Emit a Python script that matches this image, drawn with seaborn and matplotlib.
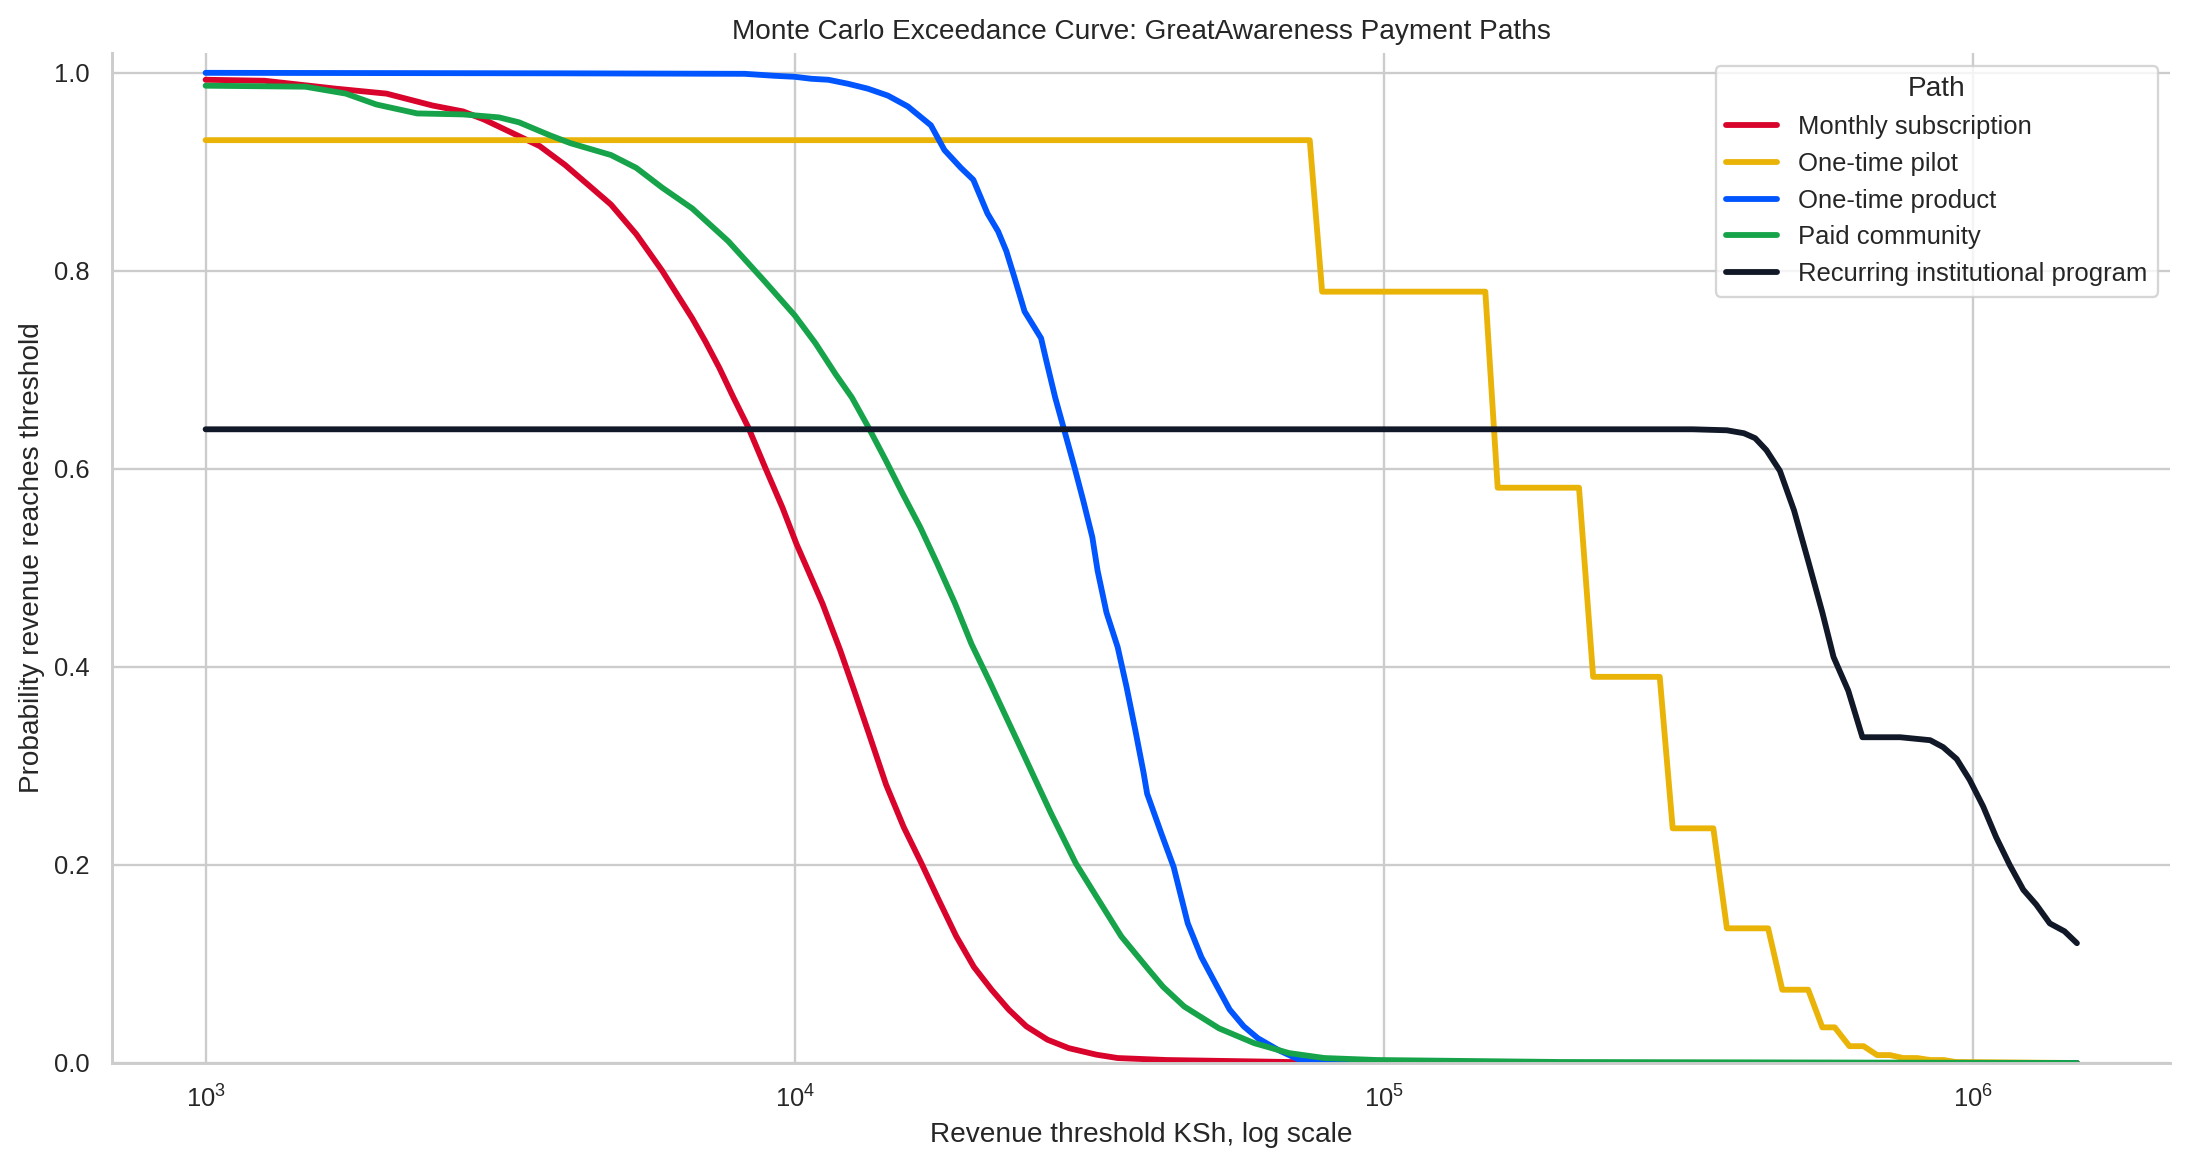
import numpy as np
import pandas as pd
import matplotlib
matplotlib.use("Agg")
import matplotlib.pyplot as plt
import seaborn as sns

# ---------------- data ----------------
paths = ["Monthly subscription", "One-time pilot", "One-time product",
         "Paid community", "Recurring institutional program"]
colors = ["#D9042B", "#EAB308", "#0055FF", "#16A34A", "#111827"]

monthly_x = [1000, 1259, 1663, 2028, 2427, 2735, 2965, 3404, 3690, 4074, 4498, 4875,
             5383, 5957, 6699, 7047, 7447, 7870, 8337, 8913, 9528, 10069, 10666, 11143,
             11940, 12618, 13335, 14289, 15311, 16406, 17539, 18793, 20137, 21577,
             23067, 24717, 26853, 29174, 32509, 35318, 42756, 69024, 100000, 1500000]
monthly_y = [0.993, 0.992, 0.984, 0.979, 0.967, 0.961, 0.953, 0.936, 0.926, 0.907, 0.885, 0.867,
             0.837, 0.800, 0.752, 0.729, 0.702, 0.672, 0.642, 0.601, 0.561, 0.524, 0.490, 0.464,
             0.417, 0.376, 0.334, 0.281, 0.238, 0.2016, 0.165, 0.128, 0.097, 0.074,
             0.054, 0.037, 0.0235, 0.015, 0.0084, 0.005, 0.003, 0.001, 0.0, 0.0]

pilot_x = [1000, 74817, 78524, 148594, 155955, 214289, 226464, 293765, 309030, 362243,
           381944, 448745, 474242, 524807, 554626, 582103, 616595, 651628, 687068,
           722770, 760326, 803526, 845279, 891251, 933254, 1500000]
pilot_y = [0.932, 0.932, 0.779, 0.779, 0.581, 0.581, 0.390, 0.390, 0.237, 0.237,
           0.136, 0.136, 0.074, 0.074, 0.036, 0.036, 0.017, 0.017, 0.008,
           0.008, 0.005, 0.005, 0.003, 0.003, 0.001, 0.0]

product_x = [1000, 4018, 8222, 9247, 10000, 10666, 11402, 12303, 13305, 14388, 15560,
             17022, 17947, 19143, 20091, 21232, 22131, 22856, 23605, 24547, 26182,
             26730, 27669, 28576, 29854, 30903, 31989, 32659, 33806, 35318, 36559,
             37844, 39084, 39628, 41879, 43954, 46452, 48978, 52119, 54702, 57810,
             61094, 66222, 71945, 89125, 1500000]
product_y = [1.0, 0.9995, 0.999, 0.997, 0.996, 0.994, 0.993, 0.989, 0.984, 0.977, 0.966,
             0.947, 0.922, 0.904, 0.892, 0.858, 0.840, 0.820, 0.793, 0.759, 0.732,
             0.709, 0.672, 0.642, 0.601, 0.567, 0.531, 0.497, 0.455, 0.420, 0.380,
             0.336, 0.293, 0.272, 0.232, 0.198, 0.141, 0.107, 0.077, 0.054, 0.037,
             0.025, 0.013, 0.003, 0.0, 0.0]

community_x = [1000, 1476, 1730, 1950, 2286, 2735, 3148, 3404, 3837, 4159, 4875, 5383,
               5957, 6699, 7709, 8872, 10000, 10839, 11749, 12503, 13335, 14289, 15241,
               16331, 17458, 18707, 19953, 21380, 22856, 24266, 25468, 27227, 29992,
               32509, 35810, 39902, 42170, 45814, 52481, 60256, 69024, 79250, 97275,
               199526, 1500000]
community_y = [0.987, 0.986, 0.979, 0.968, 0.959, 0.958, 0.955, 0.950, 0.937, 0.929, 0.917, 0.904,
               0.884, 0.863, 0.830, 0.790, 0.755, 0.727, 0.695, 0.672, 0.642, 0.608, 0.575,
               0.541, 0.504, 0.464, 0.423, 0.386, 0.349, 0.316, 0.289, 0.252, 0.2016,
               0.168, 0.128, 0.094, 0.077, 0.057, 0.035, 0.020, 0.010, 0.005, 0.003,
               0.001, 0.0]

institutional_x = [1000, 334195, 381944, 408319, 426580, 445656, 469894, 496592, 524807,
                   554626, 579428, 613762, 648634, 751623, 845279, 889201, 937562, 986279,
                   1039920, 1093956, 1153453, 1216186, 1279381, 1348963, 1428894, 1500000]
institutional_y = [0.640, 0.640, 0.639, 0.636, 0.631, 0.619, 0.598, 0.558, 0.507,
                   0.455, 0.410, 0.376, 0.329, 0.329, 0.326, 0.319, 0.307, 0.286,
                   0.259, 0.228, 0.200, 0.175, 0.160, 0.141, 0.133, 0.121]

series_x = [monthly_x, pilot_x, product_x, community_x, institutional_x]
series_y = [monthly_y, pilot_y, product_y, community_y, institutional_y]

title = "Monte Carlo Exceedance Curve: GreatAwareness Payment Paths"
xlabel = "Revenue threshold KSh, log scale"
ylabel = "Probability revenue reaches threshold"

# ---------------- build long table ----------------
frames = []
for name, xs, ys in zip(paths, series_x, series_y):
    frames.append(pd.DataFrame({"threshold": xs, "prob": ys, "Path": name}))
df = pd.concat(frames, ignore_index=True)

# ---------------- plot ----------------
sns.set_theme(style="whitegrid")
plt.rcParams["font.family"] = ["Liberation Sans", "DejaVu Sans"]

dpi = 168
fig, ax = plt.subplots(figsize=(2188 / dpi, 1168 / dpi), dpi=dpi)
fig.subplots_adjust(left=0.0512, right=0.992, top=0.9546, bottom=0.0899)

sns.lineplot(data=df, x="threshold", y="prob", hue="Path", hue_order=paths,
             palette=dict(zip(paths, colors)), linewidth=2.5, ax=ax,
             estimator=None, sort=False)

ax.set_xscale("log")
ax.set_ylim(0, 1.02)
ax.set_title(title, fontsize=12)
ax.set_xlabel(xlabel, fontsize=12)
ax.set_ylabel(ylabel, fontsize=12)
ax.tick_params(labelsize=11)
ax.minorticks_off()
sns.despine(ax=ax)

leg = ax.legend(title="Path", loc="upper right", fontsize=11, title_fontsize=12)
for line in leg.get_lines():
    line.set_linewidth(2.5)

fig.savefig("out.png", dpi=dpi)
